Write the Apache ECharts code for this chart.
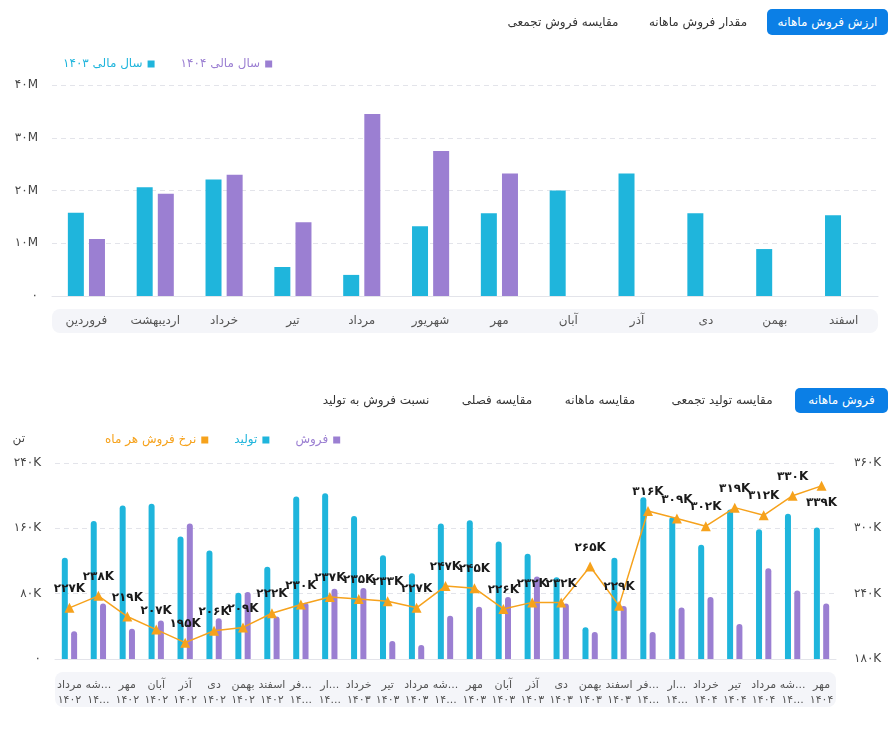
<!DOCTYPE html>
<html style="height: 100%">
<head>
	<meta charset="utf-8">
	<style>
		body { margin: 0; background: #fff; font-family: 'DejaVu Sans', sans-serif; }
		#container { position: absolute; left: 0; top: 0; width: 896px; height: 730px; }
		.tab { position: absolute; transform: translate(-50%, -50%); font-size: 12px; color: #333; white-space: nowrap; direction: rtl; }
		.tab.active { background: #0b7fe6; color: #fff; border-radius: 5px; transform: none; text-align: center; }
	</style>
</head>
<body>
	<div id="container"></div>
	<div class="tab active" style="left: 767px; top: 9px; width: 121px; height: 26px; line-height: 26px;">ارزش فروش ماهانه</div>
	<div class="tab" style="left: 698px; top: 22px;">مقدار فروش ماهانه</div>
	<div class="tab" style="left: 563px; top: 22px;">مقایسه فروش تجمعی</div>
	<div class="tab active" style="left: 795px; top: 388px; width: 93px; height: 25px; line-height: 25px;">فروش ماهانه</div>
	<div class="tab" style="left: 722px; top: 400px;">مقایسه تولید تجمعی</div>
	<div class="tab" style="left: 600px; top: 400px;">مقایسه ماهانه</div>
	<div class="tab" style="left: 497px; top: 400px;">مقایسه فصلی</div>
	<div class="tab" style="left: 376px; top: 400px;">نسبت فروش به تولید</div>

	<script type="text/javascript" src="https://cdn.jsdelivr.net/npm/echarts@6/dist/echarts.min.js"></script>
	<script type="text/javascript">
		// ارزش فروش ماهانه (میلیون)
		let months = ['فروردین', 'اردیبهشت', 'خرداد', 'تیر', 'مرداد', 'شهریور', 'مهر', 'آبان', 'آذر', 'دی', 'بهمن', 'اسفند'];
		let value1403 = [15.8, 20.6, 22.1, 5.5, 4.0, 13.2, 15.7, 20.0, 23.2, 15.7, 8.9, 15.3];
		let value1404 = [10.8, 19.4, 23.0, 14.0, 34.5, 27.5, 23.2, null, null, null, null, null];

		// فروش ماهانه (هزار تن)
		let periods = ['مرداد\n۱۴۰۲', 'شهریور\n۱۴۰۲', 'مهر\n۱۴۰۲', 'آبان\n۱۴۰۲', 'آذر\n۱۴۰۲', 'دی\n۱۴۰۲', 'بهمن\n۱۴۰۲', 'اسفند\n۱۴۰۲',
			'فروردین\n۱۴۰۳', 'اردیبهشت\n۱۴۰۳', 'خرداد\n۱۴۰۳', 'تیر\n۱۴۰۳', 'مرداد\n۱۴۰۳', 'شهریور\n۱۴۰۳', 'مهر\n۱۴۰۳', 'آبان\n۱۴۰۳',
			'آذر\n۱۴۰۳', 'دی\n۱۴۰۳', 'بهمن\n۱۴۰۳', 'اسفند\n۱۴۰۳', 'فروردین\n۱۴۰۴', 'اردیبهشت\n۱۴۰۴', 'خرداد\n۱۴۰۴', 'تیر\n۱۴۰۴',
			'مرداد\n۱۴۰۴', 'شهریور\n۱۴۰۴', 'مهر\n۱۴۰۴'];
		let production = [124, 169, 188, 190, 150, 133, 81, 113, 199, 203, 175, 127, 105, 166, 170, 144, 129, 100, 39, 124, 198, 174, 140, 183, 159, 178, 161];
		let sales = [34, 68, 37, 47, 166, 50, 82, 52, 69, 86, 87, 22, 17, 53, 64, 76, 101, 68, 33, 65, 33, 63, 76, 43, 111, 84, 68];
		let rate = [227, 238, 219, 207, 195, 206, 209, 222, 230, 237, 235, 233, 227, 247, 245, 226, 232, 232, 265, 229, 316, 309, 302, 319, 312, 330, 339];

		const BLUE = '#1fb5dc';
		const PURPLE = '#9b7fd2';
		const ORANGE = '#f6a21c';
		const FONT = 'DejaVu Sans';
		const LABEL_FONT = '11px DejaVu Sans';

		function fa(s) {
			return String(s).replace(/\d/g, d => '۰۱۲۳۴۵۶۷۸۹'[d]);
		}

		// ماه و سال؛ اگر ماه جا نشد سال هم کوتاه شود
		function periodLabel(value) {
			let parts = value.split('\n');
			let m = echarts.format.truncateText(parts[0], 33, LABEL_FONT);
			if (m === parts[0]) return value;
			return m + '\n' + echarts.format.truncateText(parts[1], 24, LABEL_FONT);
		}

		let rateData = rate.map((v, i) => i === rate.length - 1
			? { value: v, label: { position: 'bottom', distance: 6 } }
			: v);

		let dom = document.getElementById('container');
		let myChart = echarts.init(dom);

		let option = {
			textStyle: { fontFamily: FONT },
			animation: false,
			graphic: [
				{ type: 'rect', left: 52, top: 309, shape: { width: 826, height: 24, r: 8 }, style: { fill: '#f4f5f9' }, z: -1 },
				{ type: 'rect', left: 55, top: 672, shape: { width: 781, height: 35, r: 8 }, style: { fill: '#f4f5f9' }, z: -1 }
			],
			legend: [
				{
					left: 58, top: 53, align: 'right', itemWidth: 7, itemHeight: 7, itemGap: 26,
					icon: 'rect',
					data: [
						{ name: 'سال مالی ۱۴۰۳', textStyle: { color: BLUE } },
						{ name: 'سال مالی ۱۴۰۴', textStyle: { color: PURPLE } }
					],
					textStyle: { fontSize: 12, fontFamily: FONT }
				},
				{
					left: 100, top: 429, align: 'right', itemWidth: 7, itemHeight: 7, itemGap: 26,
					icon: 'rect',
					data: [
						{ name: 'نرخ فروش هر ماه', textStyle: { color: ORANGE } },
						{ name: 'تولید', textStyle: { color: BLUE } },
						{ name: 'فروش', textStyle: { color: PURPLE } }
					],
					textStyle: { fontSize: 12, fontFamily: FONT }
				}
			],
			grid: [
				{ left: 52, right: 18, top: 85, height: 211 },
				{ left: 55, right: 60, top: 463, height: 196 }
			],
			xAxis: [
				{
					type: 'category', gridIndex: 0, data: months,
					axisLine: { lineStyle: { color: '#e3e4ea' } },
					axisTick: { show: false },
					axisLabel: { color: '#555', fontSize: 12, margin: 19 }
				},
				{
					type: 'category', gridIndex: 1, data: periods,
					axisLine: { lineStyle: { color: '#e3e4ea' } },
					axisTick: { show: false },
					axisLabel: {
						color: '#555', fontSize: 11, margin: 19, lineHeight: 15,
						interval: 0, formatter: periodLabel
					}
				}
			],
			yAxis: [
				{
					type: 'value', gridIndex: 0, min: 0, max: 40, interval: 10,
					axisLabel: { color: '#444', fontSize: 12, margin: 14, formatter: v => v === 0 ? '۰' : fa(v) + 'M' },
					splitLine: { lineStyle: { color: '#e3e4ea', type: [5, 4] } }
				},
				{
					type: 'value', gridIndex: 1, min: 0, max: 240, interval: 80,
					name: 'تن', nameGap: 18,
					nameTextStyle: { color: '#444', fontSize: 12, align: 'right', padding: [0, 30, 0, 0] },
					axisLabel: { color: '#444', fontSize: 12, margin: 14, formatter: v => v === 0 ? '۰' : fa(v) + 'K' },
					splitLine: { lineStyle: { color: '#e3e4ea', type: [5, 4] } }
				},
				{
					type: 'value', gridIndex: 1, min: 180, max: 360, interval: 60, position: 'right',
					axisLabel: { color: '#444', fontSize: 12, margin: 18, formatter: v => fa(v) + 'K' },
					splitLine: { show: false }
				}
			],
			series: [
				{
					name: 'سال مالی ۱۴۰۳', type: 'bar', xAxisIndex: 0, yAxisIndex: 0,
					data: value1403, barWidth: 16, barGap: '32%',
					itemStyle: { color: BLUE }
				},
				{
					name: 'سال مالی ۱۴۰۴', type: 'bar', xAxisIndex: 0, yAxisIndex: 0,
					data: value1404, barWidth: 16,
					itemStyle: { color: PURPLE }
				},
				{
					name: 'تولید', type: 'bar', xAxisIndex: 1, yAxisIndex: 1,
					data: production, barWidth: 6, barGap: '55%',
					itemStyle: { color: BLUE, borderRadius: [3, 3, 0, 0] }
				},
				{
					name: 'فروش', type: 'bar', xAxisIndex: 1, yAxisIndex: 1,
					data: sales, barWidth: 6,
					itemStyle: { color: PURPLE, borderRadius: [3, 3, 0, 0] }
				},
				{
					name: 'نرخ فروش هر ماه', type: 'line', xAxisIndex: 1, yAxisIndex: 2,
					data: rateData, symbol: 'triangle', symbolSize: 10,
					itemStyle: { color: ORANGE },
					lineStyle: { color: ORANGE, width: 1.5 },
					label: {
						show: true, position: 'top', distance: 8,
						color: '#1a1a1a', fontWeight: 'bold', fontSize: 12,
						formatter: p => fa(p.value) + 'K'
					},
					z: 5
				}
			]
		};

		myChart.setOption(option);
	</script>
</body>
</html>
